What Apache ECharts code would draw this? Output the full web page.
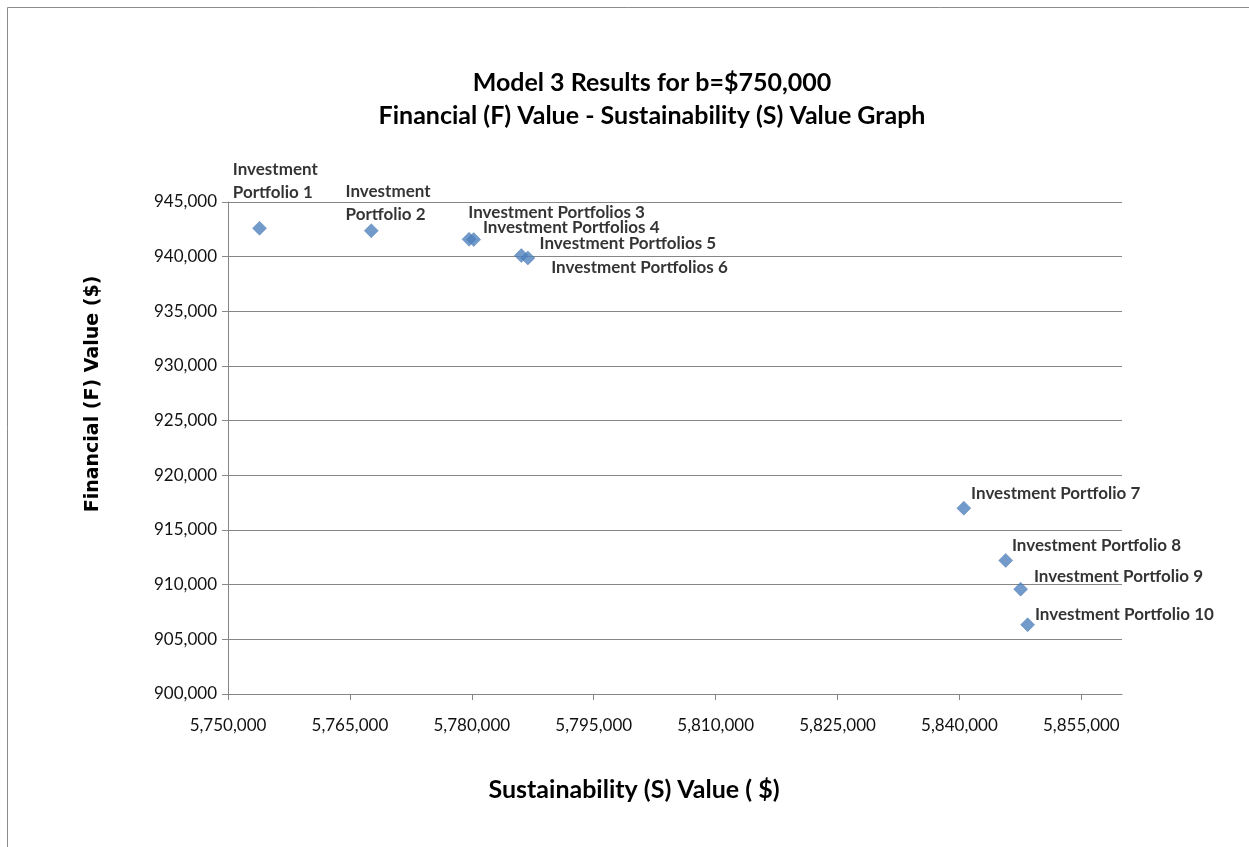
<!DOCTYPE html>
<html>
<head>
<meta charset="utf-8">
<script src="https://cdn.jsdelivr.net/npm/echarts@6/dist/echarts.min.js"></script>
<style>
  html, body { margin: 0; padding: 0; background: #fff; }
  #chart { width: 1249px; height: 847px; }
</style>
</head>
<body>
<div id="chart"></div>
<script>
  // portfolio names, as labelled on the chart
  var portfolioNames = [
    'Investment\nPortfolio 1',
    'Investment\nPortfolio 2',
    'Investment Portfolios 3',
    'Investment Portfolios 4',
    'Investment Portfolios 5',
    'Investment Portfolios 6',
    'Investment Portfolio 7',
    'Investment Portfolio 8',
    'Investment Portfolio 9',
    'Investment Portfolio 10'
  ];
  // Sustainability (S) value, x
  var sValues = [5753880, 5767630, 5779660, 5780230, 5786090, 5786900, 5840540, 5845690, 5847530, 5848390];
  // Financial (F) value, y
  var fValues = [942600, 942380, 941590, 941560, 940100, 939880, 917000, 912220, 909590, 906340];
  // axis ticks
  var xTicks = [5750000, 5765000, 5780000, 5795000, 5810000, 5825000, 5840000, 5855000];

  // where each label sits next to its marker (px)
  var labelOffsets = [[-34, -47], [-33, -28], [-8, -27], [2, -12], [11, -12], [16, 10], [0, -15], [-1, -15], [6, -13], [0, -10]];

  var fmt = function (v) { return Number(v).toLocaleString('en-US'); };
  var font = 'Lato, "Open Sans", sans-serif';

  var points = sValues.map(function (s, i) {
    return { value: [s, fValues[i]], name: portfolioNames[i] };
  });

  var chart = echarts.init(document.getElementById('chart'));
  chart.setOption({
    backgroundColor: '#fff',
    animation: false,
    textStyle: { fontFamily: font },
    graphic: [{
      type: 'rect',
      shape: { x: 7.5, y: 7.5, width: 1400, height: 1000 },
      style: { fill: 'none', stroke: '#8c8c8c', lineWidth: 1 },
      silent: true
    }, {
      // y axis title
      type: 'text',
      x: 93,
      y: 394,
      rotation: Math.PI / 2,
      style: {
        text: 'Financial (F) Value ($)',
        font: 'bold 19px "DejaVu Sans", sans-serif',
        fill: '#000',
        align: 'center',
        verticalAlign: 'middle'
      },
      silent: true
    }, {
      // x axis title
      type: 'text',
      x: 634,
      y: 790,
      style: {
        text: 'Sustainability (S) Value ( $)',
        font: 'bold 25px ' + font,
        fill: '#000',
        align: 'center',
        verticalAlign: 'middle'
      },
      silent: true
    }],
    title: {
      text: 'Model 3 Results for b=$750,000\nFinancial (F) Value - Sustainability (S) Value Graph',
      left: 647,
      top: 61,
      textAlign: 'center',
      textStyle: { fontFamily: font, fontWeight: 'bold', fontSize: 25, lineHeight: 33, color: '#000' }
    },
    grid: { left: 228, top: 202, right: 127, bottom: 153, containLabel: false },
    xAxis: {
      type: 'value',
      min: 5750000,
      max: 5860000,
      axisLine: { show: true, onZero: false, lineStyle: { color: '#868686' } },
      axisTick: { show: true, length: 6, customValues: xTicks, lineStyle: { color: '#868686' } },
      axisLabel: { customValues: xTicks, formatter: fmt, margin: 23, fontSize: 17, color: '#111', fontFamily: font },
      splitLine: { show: false }
    },
    yAxis: {
      type: 'value',
      min: 900000,
      max: 945000,
      interval: 5000,
      axisLine: { show: true, lineStyle: { color: '#868686' } },
      axisTick: { show: true, length: 6, lineStyle: { color: '#868686' } },
      axisLabel: { formatter: fmt, margin: 11, fontSize: 17, color: '#111', fontFamily: font },
      splitLine: { show: true, lineStyle: { color: '#868686', width: 1 } }
    },
    series: [{
      type: 'scatter',
      symbol: 'diamond',
      symbolSize: 14,
      itemStyle: { color: '#4f81bd', borderColor: '#4272ad', borderWidth: 0.5 },
      label: {
        show: true,
        position: 'right',
        distance: 0,
        formatter: '{b}',
        fontFamily: font,
        fontWeight: 'bold',
        fontSize: 17,
        lineHeight: 23,
        color: '#000',
        align: 'left'
      },
      labelLayout: function (params) {
        var o = labelOffsets[params.dataIndex];
        return { dx: o[0], dy: o[1], hideOverlap: false };
      },
      data: points
    }]
  });
</script>
</body>
</html>
